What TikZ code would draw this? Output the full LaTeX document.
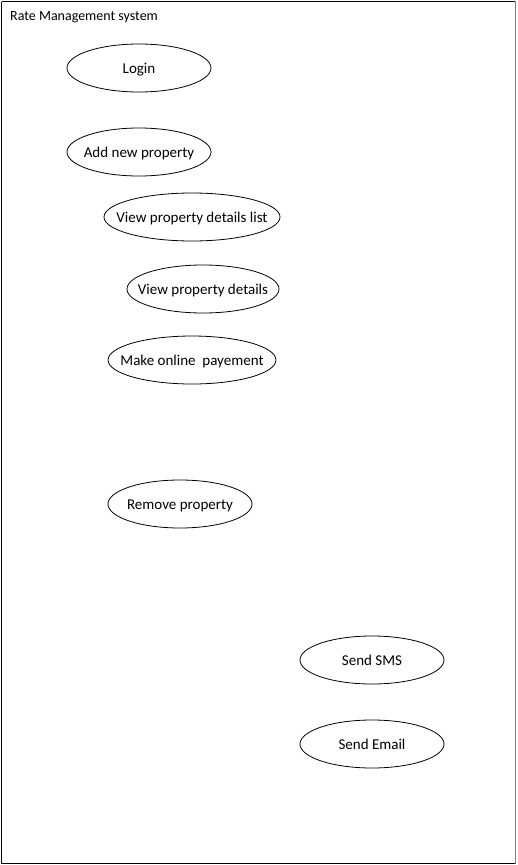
\documentclass[tikz,border=0pt]{standalone}
\usepackage{fontspec}
\setmainfont{Carlito}
\usetikzlibrary{shapes.geometric}
\newcommand{\uctext}[1]{\makebox[0pt]{\raisebox{-5.5pt}[0pt][0pt]{#1}}}
\begin{document}
\begin{tikzpicture}[x=1pt,y=-1pt,
  uc/.style={draw,ellipse,inner sep=0pt,line width=0.8pt,minimum height=48,font=\fontsize{15}{16}\selectfont}]
\useasboundingbox (0,0) rectangle (517,865);
\fill[white] (0,0) rectangle (517,865);
\draw[line width=1pt] (1.5,1.5) -- (515,1.5);
\draw[line width=1pt] (1.5,1.5) -- (1.5,863.5) -- (515,863.5);
\draw[line width=1.2pt,gray] (515.5,1) -- (515.5,864);
\node[anchor=west,font=\fontsize{14}{16}\selectfont,inner sep=0pt] (title) at (10,17.5) {Rate Management system};
\node[uc,minimum width=144] (login) at (139,68) {\uctext{Login}};
\node[uc,minimum width=144] (add) at (139,152) {\uctext{Add new property}};
\node[uc,minimum width=176] (vlist) at (192,217) {\uctext{View property details list}};
\node[uc,minimum width=152] (vdet) at (203,289) {\uctext{View property details}};
\node[uc,minimum width=168] (pay) at (192,360) {\uctext{Make online\ \ payement}};
\node[uc,minimum width=144] (rem) at (180,504) {\uctext{Remove property}};
\node[uc,minimum width=144] (sms) at (372,660) {\uctext{Send SMS}};
\node[uc,minimum width=144] (email) at (372,744) {\uctext{Send Email}};
\end{tikzpicture}
\end{document}
